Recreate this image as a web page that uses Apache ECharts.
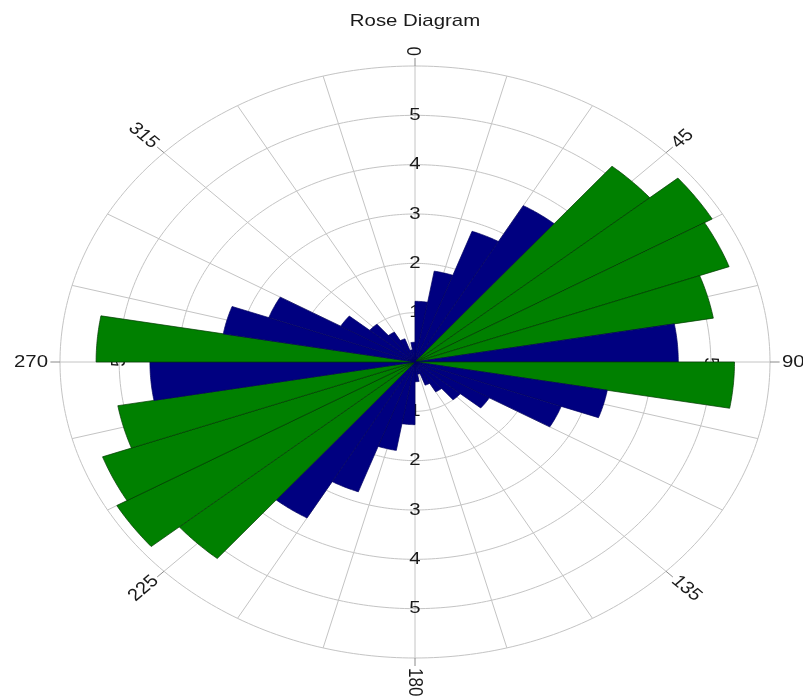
<!DOCTYPE html>
<html>
<head>
<meta charset="utf-8">
<script src="https://cdn.jsdelivr.net/npm/echarts@6/dist/echarts.min.js"></script>
<style>
html,body{margin:0;padding:0;background:#ffffff;}
#chart{width:803px;height:696px;}
</style>
</head>
<body>
<div id="chart"></div>
<script>
// ---------------- data ----------------
const chartTitle = 'Rose Diagram';
const binWidth = 10;
const binStarts = [0,10,20,30,40,50,60,70,80,90,100,110,120,130,140,150,160,170,
                   180,190,200,210,220,230,240,250,260,270,280,290,300,310,320,330,340,350];
const petalValues = [1.23,1.87,2.82,3.66,5.18,5.80,5.65,5.12,4.45,5.40,3.30,2.63,1.45,1.00,0.70,0.50,0.25,0.40,
                     1.27,1.82,2.80,3.65,5.20,5.82,5.62,5.10,4.48,5.39,3.29,2.63,1.45,1.00,0.70,0.50,0.25,0.40];
// 0 = navy petal, 1 = green petal
const petalGroup = [0,0,0,0,1,1,1,1,0,1,0,0,0,0,0,0,0,0,
                    0,0,0,0,1,1,1,1,0,1,0,0,0,0,0,0,0,0];
const groupColors = ['#000080', '#008000'];
const groupStrokes = ['#000060', '#003a00'];
const ringValues = [1,2,3,4,5,6];
const spokeAngles = [0,15,30,45,60,75,90,105,120,135,150,165,180,195,210,225,240,255,270,285,300,315,330,345];
const angleLabelPositions = [0,45,90,135,180,225,270,315];
const angleLabels = ['0','45','90','135','180','225','270','315'];
const radialLabels = ['1','2','3','4','5'];
const radialLabelValues = [1,2,3,4,5];
const radialLabelDirections = [0,90,180,270];
const radiusMax = 6;

// ---------------- helpers ----------------
const FONT = '"Liberation Sans", Arial, sans-serif';
const TEXT_COLOR = '#1a1a1a';
function polarToXY(r, deg) {
  const a = deg * Math.PI / 180;
  return [r * Math.sin(a), r * Math.cos(a)];
}
function stretchOf(api) {
  const o = api.coord([0, 0]);
  const px = api.coord([1, 0])[0] - o[0];
  const py = o[1] - api.coord([0, 1])[1];
  return px / py;
}
function unitY(api) {
  return api.coord([0, 0])[1] - api.coord([0, 1])[1];
}

const chart = echarts.init(document.getElementById('chart'), null, {renderer: 'canvas'});

const option = {
  animation: false,
  backgroundColor: '#ffffff',
  grid: {left: 60, right: 33, top: 66, bottom: 38},
  xAxis: {type: 'value', min: -radiusMax, max: radiusMax, show: false},
  yAxis: {type: 'value', min: -radiusMax, max: radiusMax, show: false},
  graphic: [{
    type: 'text',
    x: 415, y: 21,
    scaleX: 1.2,
    silent: true,
    style: {text: chartTitle, align: 'center', verticalAlign: 'middle',
            fontSize: 17, fontFamily: FONT, fill: TEXT_COLOR}
  }],
  series: [
    // rings
    {
      type: 'custom', coordinateSystem: 'cartesian2d', z: 1, silent: true,
      data: ringValues.map(v => [0, v]),
      renderItem: function (params, api) {
        const r = api.value(1);
        const pts = [];
        for (let a = 0; a <= 360; a += 1) pts.push(api.coord(polarToXY(r, a)));
        return {type: 'polyline', shape: {points: pts},
                style: {stroke: '#c4c4c4', lineWidth: 1, fill: null}};
      }
    },
    // spokes
    {
      type: 'custom', coordinateSystem: 'cartesian2d', z: 1, silent: true,
      data: spokeAngles.map(a => [0, 0, a]),
      renderItem: function (params, api) {
        const a = api.value(2);
        const p0 = api.coord([0, 0]);
        const p1 = api.coord(polarToXY(radiusMax, a));
        return {type: 'line', shape: {x1: p0[0], y1: p0[1], x2: p1[0], y2: p1[1]},
                style: {stroke: '#c4c4c4', lineWidth: 1}};
      }
    },
    // radial value labels (under the petals)
    {
      type: 'custom', coordinateSystem: 'cartesian2d', z: 1, silent: true,
      data: (function () {
        const d = [];
        radialLabelDirections.forEach(dir => {
          radialLabelValues.forEach((v, i) => d.push([0, v, dir, i]));
        });
        return d;
      })(),
      renderItem: function (params, api) {
        const r = api.value(1);
        const dir = api.value(2);
        const idx = api.value(3);
        const p = api.coord(polarToXY(r, dir));
        let rot = -dir * Math.PI / 180;
        while (rot <= -Math.PI) rot += 2 * Math.PI;
        while (rot > Math.PI) rot -= 2 * Math.PI;
        if (Math.abs(rot) > Math.PI / 2 + 0.01) rot += Math.PI;
        return {
          type: 'group', x: p[0], y: p[1], scaleX: stretchOf(api),
          children: [{
            type: 'text', rotation: rot,
            style: {text: radialLabels[idx], x: 0, y: 0, align: 'center', verticalAlign: 'middle',
                    fontSize: 17, fontFamily: FONT, fill: TEXT_COLOR}
          }]
        };
      }
    },
    // petals
    {
      type: 'custom', coordinateSystem: 'cartesian2d', z: 2, silent: true,
      data: binStarts.map((s, i) => [0, petalValues[i], s, petalGroup[i]]),
      renderItem: function (params, api) {
        const r = api.value(1);
        const s = api.value(2);
        const g = api.value(3);
        const pts = [api.coord([0, 0])];
        for (let a = s; a <= s + binWidth + 1e-9; a += 0.5) pts.push(api.coord(polarToXY(r, a)));
        return {type: 'polygon', shape: {points: pts},
                style: {fill: groupColors[g], stroke: groupStrokes[g], lineWidth: 0.7, lineJoin: 'bevel'}};
      }
    },
    // angle ticks and labels
    {
      type: 'custom', coordinateSystem: 'cartesian2d', z: 3, silent: true,
      data: angleLabelPositions.map((a, i) => [0, 0, a, i]),
      renderItem: function (params, api) {
        const a = api.value(2);
        const idx = api.value(3);
        const uy = unitY(api);
        const tickLen = 8 / uy;
        const gap = 10 / uy;
        const p0 = api.coord(polarToXY(radiusMax, a));
        const p1 = api.coord(polarToXY(radiusMax + tickLen, a));
        const pl = api.coord(polarToXY(radiusMax + gap, a));
        const rad = a * Math.PI / 180;
        let rot = Math.PI / 2 - rad;
        let align = 'left';
        if (Math.sin(rad) < -0.01) { rot += Math.PI; align = 'right'; }
        return {
          type: 'group',
          children: [
            {type: 'line', shape: {x1: p0[0], y1: p0[1], x2: p1[0], y2: p1[1]},
             style: {stroke: '#8a8a8a', lineWidth: 1}},
            {type: 'group', x: pl[0], y: pl[1], scaleX: stretchOf(api),
             children: [{
               type: 'text', rotation: rot,
               style: {text: angleLabels[idx], x: 0, y: 0, align: align, verticalAlign: 'middle',
                       fontSize: 17, fontFamily: FONT, fill: TEXT_COLOR}
             }]}
          ]
        };
      }
    }
  ]
};
chart.setOption(option);
</script>
</body>
</html>
